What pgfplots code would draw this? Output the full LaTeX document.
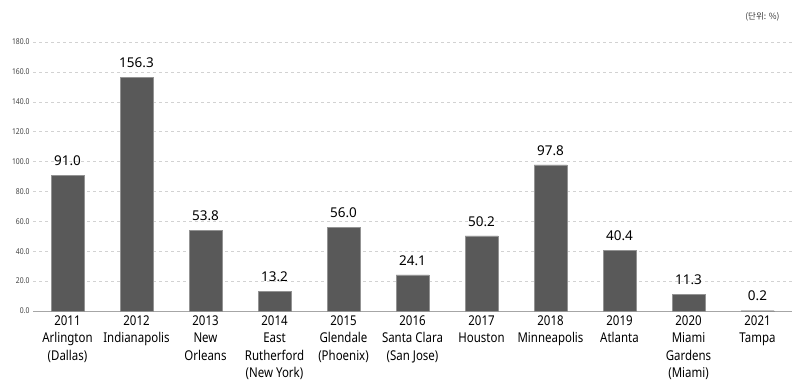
\documentclass[border=0pt]{standalone}
\usepackage{fontspec}
\setmainfont{Noto Sans}
\newfontfamily\kr{Noto Sans CJK KR}
\usepackage{pgfplots}
\pgfplotsset{compat=1.18}
\definecolor{barc}{HTML}{595959}
\begin{document}
\begin{tikzpicture}
\begin{axis}[
  scale only axis, width=759pt, height=269pt,
  xmin=-0.5, xmax=10.5, ymin=0, ymax=180,
  ytick={0,20,...,180},
  axis x line*=bottom, axis y line*=left,
  y axis line style={draw=none},
  x axis line style={draw=gray!70, line width=0.8pt},
  major tick length=0pt,
  ymajorgrids, grid style={dashed, color=gray!35},
  yticklabel style={font=\fontsize{8}{8}\selectfont\addfontfeatures{FakeStretch=0.85}, color=black!75, /pgf/number format/.cd, fixed, fixed zerofill, precision=1, assume math mode=true},
  xtick=data,
  xticklabels={{2011\\Arlington\\(Dallas)},{2012\\Indianapolis},{2013\\New\\Orleans},{2014\\East\\Rutherford\\(New York)},{2015\\Glendale\\(Phoenix)},{2016\\Santa Clara\\(San Jose)},{2017\\Houston},{2018\\Minneapolis},{2019\\Atlanta},{2020\\Miami\\Gardens\\(Miami)},{2021\\Tampa}},
  xticklabel style={align=center, font=\fontsize{13.5}{17.5}\selectfont\addfontfeatures{FakeStretch=0.85}, yshift=-1pt, anchor=north},
  ybar, bar width=33pt,
  nodes near coords,
  point meta=y,
  every node near coord/.append style={font=\fontsize{13.5}{13.5}\selectfont, color=black, yshift=6pt, /pgf/number format/.cd, fixed, fixed zerofill, precision=1, assume math mode=true},
  clip=false,
]
\addplot[fill=barc, draw=gray!85] coordinates {
(0,91.0) (1,156.3) (2,53.8) (3,13.2) (4,56.0) (5,24.1) (6,50.2) (7,97.8) (8,40.4) (9,11.3) (10,0.2)};
\coordinate (o) at (rel axis cs:0,0);
\node[anchor=east, font=\kr\fontsize{8.5}{8.5}\selectfont, color=black!80] at ([xshift=-9pt, yshift=25pt]rel axis cs:1,1) {(단위: \%)};
\end{axis}
\pgfresetboundingbox
\path ([shift={(-33pt,-77pt)}]o) rectangle ++(800pt,388pt);
\end{tikzpicture}
\end{document}
